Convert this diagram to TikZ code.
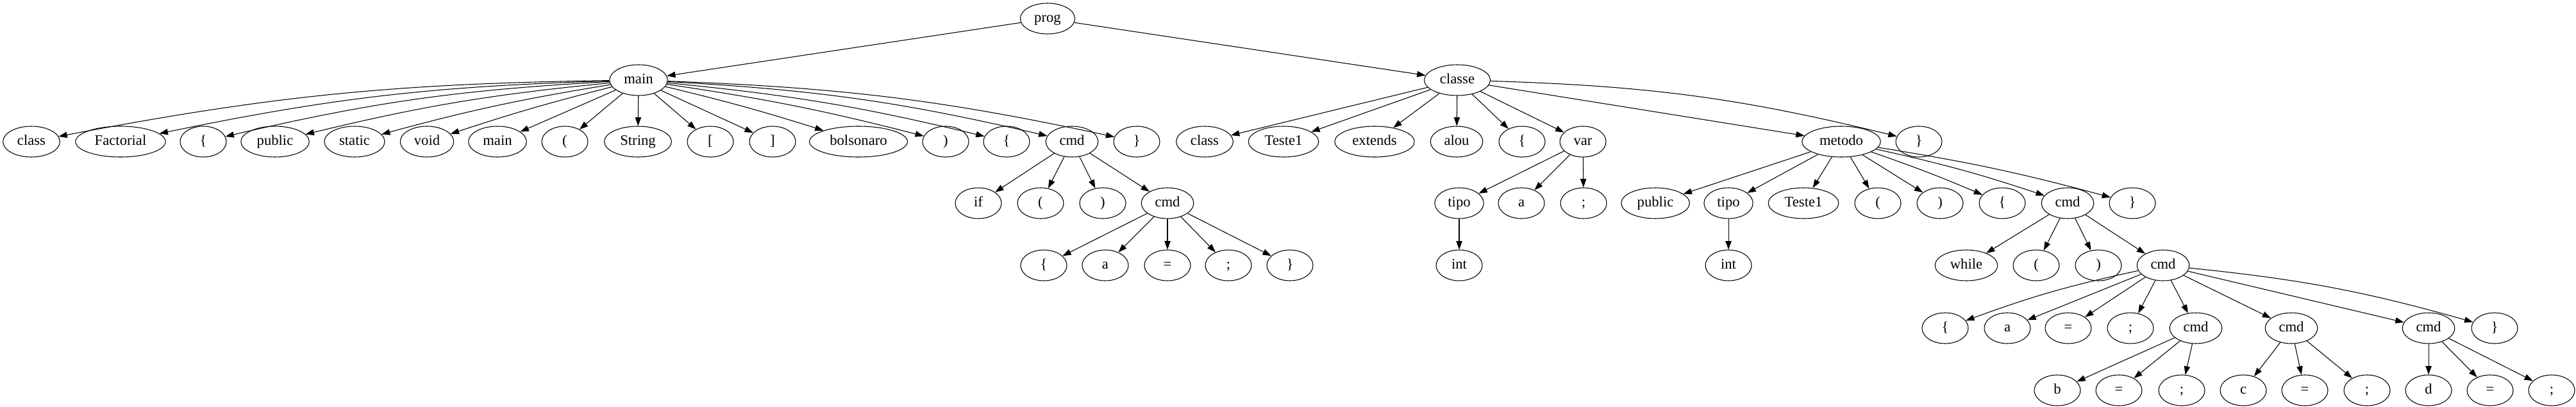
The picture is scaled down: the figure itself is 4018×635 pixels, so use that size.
\documentclass[tikz,border=0pt]{standalone}
\usepackage{fontspec}
\setmainfont{Liberation Serif}
\usetikzlibrary{arrows.meta,shapes.geometric}

\begin{document}
\begin{tikzpicture}[x=0.75pt, y=-0.75pt,
	tok/.style={shape=ellipse, draw=black, line width=0.8pt, font=\fontsize{17}{20}\selectfont,
		inner xsep=7pt, inner ysep=3pt, text height=12pt, text depth=4pt,
		minimum width=54pt, minimum height=36pt},
	arr/.style={-{Triangle[length=10pt,width=7pt]}, line width=0.8pt}]
	
	\useasboundingbox (0,0) rectangle (4018,635);
	
	% rank 0 and 1
	\node[tok] (prog) at (1634, 29)     {prog};
	\node[tok] (main) at (996, 125)     {main};
	\node[tok] (classe) at (2273, 125)     {classe};
	
	% children of main
	\node[tok] (mclass) at (49, 221)     {class};
	\node[tok] (mfact) at (188, 221)     {Factorial};
	\node[tok] (mlb) at (317, 221)     {\{};
	\node[tok] (mpub) at (429, 221)     {public};
	\node[tok] (mstat) at (553, 221)     {static};
	\node[tok] (mvoid) at (666, 221)     {void};
	\node[tok] (mmain) at (776, 221)     {main};
	\node[tok] (mlp) at (881, 221)     {(};
	\node[tok] (mstr) at (995, 221)     {String};
	\node[tok] (mlsq) at (1108, 221)     {[};
	\node[tok] (mrsq) at (1205, 221)     {]};
	\node[tok] (mbol) at (1339, 221)     {bolsonaro};
	\node[tok] (mrp) at (1475, 221)     {)};
	\node[tok] (mlb2) at (1570, 221)     {\{};
	\node[tok] (mcmd) at (1672, 221)     {cmd};
	\node[tok] (mrb) at (1773, 221)     {\}};
	
	% children of classe
	\node[tok] (cclass) at (1879, 221)     {class};
	\node[tok] (ctes) at (2002, 221)     {Teste1};
	\node[tok] (cext) at (2144, 221)     {extends};
	\node[tok] (calou) at (2272, 221)     {alou};
	\node[tok] (clb) at (2374, 221)     {\{};
	\node[tok] (cvar) at (2469, 221)     {var};
	\node[tok] (cmet) at (2872, 221)     {metodo};
	\node[tok] (crb) at (2993, 221)     {\}};
	
	% rank 3
	\node[tok] (iif) at (1526, 317)     {if};
	\node[tok] (ilp) at (1623, 317)     {(};
	\node[tok] (irp) at (1720, 317)     {)};
	\node[tok] (icmd) at (1821, 317)     {cmd};
	\node[tok] (vtipo) at (2276, 317)     {tipo};
	\node[tok] (va) at (2373, 317)     {a};
	\node[tok] (vsc) at (2470, 317)     {;};
	\node[tok] (tpub) at (2582, 317)     {public};
	\node[tok] (ttipo) at (2696, 317)     {tipo};
	\node[tok] (ttes) at (2813, 317)     {Teste1};
	\node[tok] (tlp) at (2929, 317)     {(};
	\node[tok] (trp) at (3026, 317)     {)};
	\node[tok] (tlb) at (3123, 317)     {\{};
	\node[tok] (tcmd) at (3225, 317)     {cmd};
	\node[tok] (trb) at (3326, 317)     {\}};
	
	% rank 4
	\node[tok] (jlb) at (1628, 414)     {\{};
	\node[tok] (ja) at (1724, 414)     {a};
	\node[tok] (jeq) at (1821, 414)     {=};
	\node[tok] (jsc) at (1916, 414)     {;};
	\node[tok] (jrb) at (2012, 414)     {\}};
	\node[tok] (vint) at (2276, 414)     {int};
	\node[tok] (tint) at (2696, 414)     {int};
	\node[tok] (wwhile) at (3067, 414)     {while};
	\node[tok] (wlp) at (3176, 414)     {(};
	\node[tok] (wrp) at (3273, 414)     {)};
	\node[tok] (wcmd) at (3374, 414)     {cmd};
	
	% rank 5
	\node[tok] (klb) at (3034, 512)     {\{};
	\node[tok] (ka) at (3131, 512)     {a};
	\node[tok] (keq) at (3226, 512)     {=};
	\node[tok] (ksc) at (3323, 512)     {;};
	\node[tok] (kcmdb) at (3425, 512)     {cmd};
	\node[tok] (kcmdc) at (3574, 512)     {cmd};
	\node[tok] (kcmdd) at (3788, 512)     {cmd};
	\node[tok] (krb) at (3891, 512)     {\}};
	
	% rank 6
	\node[tok] (lb) at (3209, 609)     {b};
	\node[tok] (lbeq) at (3305, 609)     {=};
	\node[tok] (lbsc) at (3403, 609)     {;};
	\node[tok] (lc) at (3499, 609)     {c};
	\node[tok] (lceq) at (3595, 609)     {=};
	\node[tok] (lcsc) at (3692, 609)     {;};
	\node[tok] (ld) at (3788, 609)     {d};
	\node[tok] (ldeq) at (3884, 609)     {=};
	\node[tok] (ldsc) at (3980, 609)     {;};
	
	\path[arr] (prog) edge (main);
	\path[arr] (prog) edge (classe);
	
	\path[arr] (main) edge[bend right=5] (mclass);
	\path[arr] (main) edge[bend right=5] (mfact);
	\path[arr] (main) edge[bend right=5] (mlb);
	\path[arr] (main) edge[bend right=4] (mpub);
	\path[arr] (main) edge[bend right=3] (mstat);
	\path[arr] (main) edge[bend right=2] (mvoid);
	\path[arr] (main) edge (mmain);
	\path[arr] (main) edge (mlp);
	\path[arr] (main) edge (mstr);
	\path[arr] (main) edge (mlsq);
	\path[arr] (main) edge (mrsq);
	\path[arr] (main) edge[bend left=2] (mbol);
	\path[arr] (main) edge[bend left=3] (mrp);
	\path[arr] (main) edge[bend left=4] (mlb2);
	\path[arr] (main) edge[bend left=5] (mcmd);
	\path[arr] (main) edge[bend left=5] (mrb);
	
	\path[arr] (classe) edge (cclass);
	\path[arr] (classe) edge (ctes);
	\path[arr] (classe) edge (cext);
	\path[arr] (classe) edge (calou);
	\path[arr] (classe) edge (clb);
	\path[arr] (classe) edge (cvar);
	\path[arr] (classe) edge (cmet);
	\path[arr] (classe) edge[bend left=6] (crb);
	
	\path[arr] (mcmd) edge (iif);
	\path[arr] (mcmd) edge (ilp);
	\path[arr] (mcmd) edge (irp);
	\path[arr] (mcmd) edge (icmd);
	\path[arr] (icmd) edge (jlb);
	\path[arr] (icmd) edge (ja);
	\path[arr] (icmd) edge (jeq);
	\path[arr] (icmd) edge (jsc);
	\path[arr] (icmd) edge (jrb);
	
	\path[arr] (cvar) edge (vtipo);
	\path[arr] (cvar) edge (va);
	\path[arr] (cvar) edge (vsc);
	\path[arr] (vtipo) edge (vint);
	
	\path[arr] (cmet) edge (tpub);
	\path[arr] (cmet) edge (ttipo);
	\path[arr] (cmet) edge (ttes);
	\path[arr] (cmet) edge (tlp);
	\path[arr] (cmet) edge (trp);
	\path[arr] (cmet) edge[bend left=2] (tlb);
	\path[arr] (cmet) edge[bend left=3] (tcmd);
	\path[arr] (cmet) edge[bend left=3] (trb);
	\path[arr] (ttipo) edge (tint);
	
	\path[arr] (tcmd) edge (wwhile);
	\path[arr] (tcmd) edge (wlp);
	\path[arr] (tcmd) edge (wrp);
	\path[arr] (tcmd) edge (wcmd);
	
	\path[arr] (wcmd) edge[bend right=4] (klb);
	\path[arr] (wcmd) edge (ka);
	\path[arr] (wcmd) edge (keq);
	\path[arr] (wcmd) edge (ksc);
	\path[arr] (wcmd) edge (kcmdb);
	\path[arr] (wcmd) edge (kcmdc);
	\path[arr] (wcmd) edge (kcmdd);
	\path[arr] (wcmd) edge[bend left=5] (krb);
	
	\path[arr] (kcmdb) edge (lb);
	\path[arr] (kcmdb) edge (lbeq);
	\path[arr] (kcmdb) edge (lbsc);
	\path[arr] (kcmdc) edge (lc);
	\path[arr] (kcmdc) edge (lceq);
	\path[arr] (kcmdc) edge (lcsc);
	\path[arr] (kcmdd) edge (ld);
	\path[arr] (kcmdd) edge (ldeq);
	\path[arr] (kcmdd) edge (ldsc);
	
\end{tikzpicture}
\end{document}
